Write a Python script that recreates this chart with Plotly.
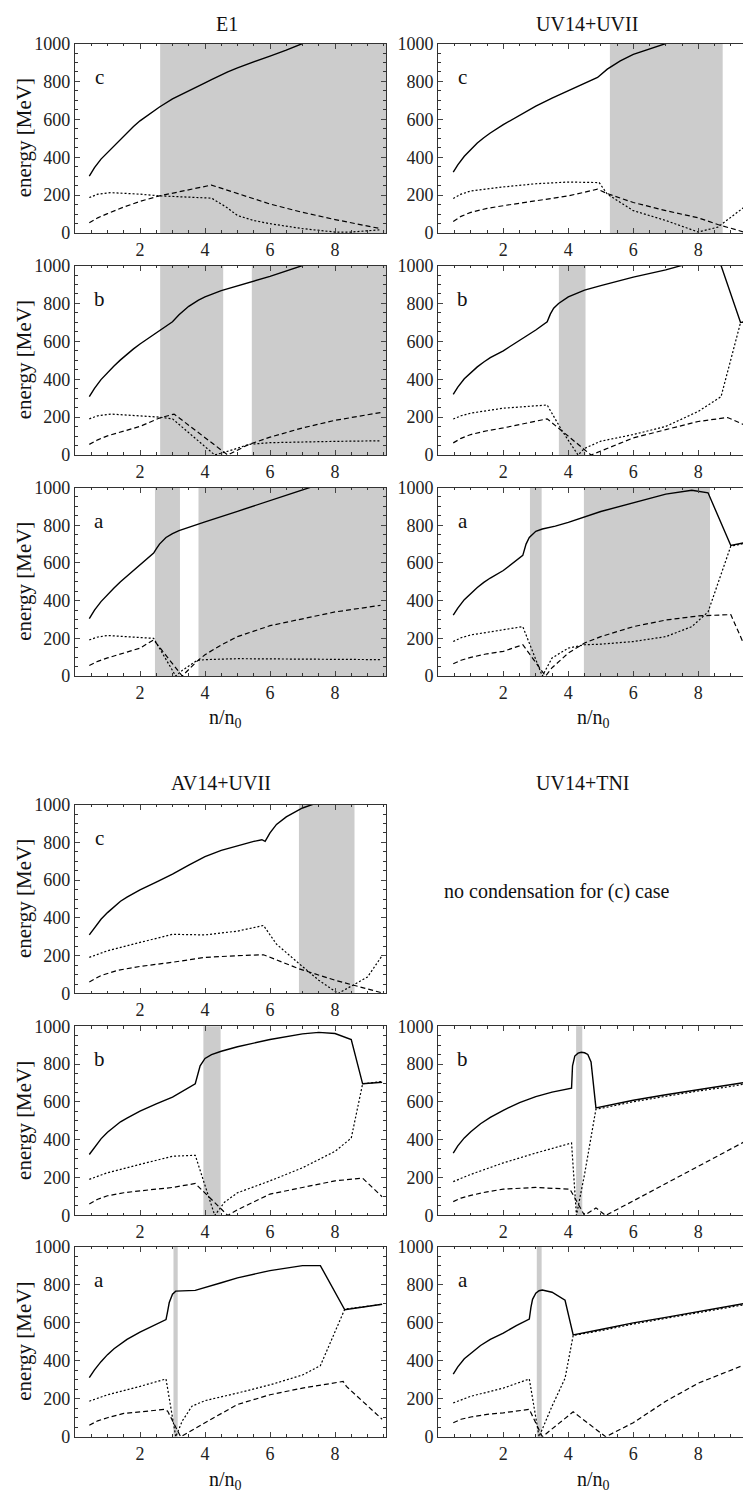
import plotly.graph_objects as go

W, H = 743, 1504

# ---------------- data ----------------
# E1
e1c_solid_x = [0.44, 0.6, 0.8, 1.0, 1.2, 1.4, 1.6, 1.8, 2.0, 2.3, 2.6, 3.0, 3.5, 4.0, 4.2, 4.4, 4.7, 5.0, 5.5, 6.0, 6.5, 7.0, 8.0, 9.6]
e1c_solid_y = [300, 345, 390, 425, 462, 497, 530, 562, 592, 630, 665, 708, 752, 792, 809, 826, 850, 872, 905, 934, 965, 1000, 1060, 1150]
e1c_dot_x = [0.44, 0.7, 1.1, 1.6, 2.0, 2.6, 3.5, 4.2, 4.67, 5.0, 5.5, 6.0, 7.0, 8.0, 8.5, 9.4]
e1c_dot_y = [187, 205, 213, 210, 205, 196, 190, 184, 135, 92, 66, 49, 23, 5, 5, 17]
e1c_dash_x = [0.44, 0.7, 1.0, 1.5, 2.0, 2.6, 4.2, 5.0, 6.0, 7.0, 8.0, 9.4]
e1c_dash_y = [54, 80, 102, 137, 167, 196, 253, 208, 153, 109, 71, 23]
e1c_shade = [(2.62, 9.6)]

e1b_solid_x = [0.44, 0.6, 0.8, 1.0, 1.2, 1.4, 1.6, 1.8, 2.0, 2.3, 2.6, 3.0, 3.2, 3.5, 3.8, 4.0, 4.5, 5.0, 6.0, 7.0, 8.0, 9.6]
e1b_solid_y = [308, 352, 398, 435, 470, 502, 532, 560, 586, 622, 656, 703, 740, 785, 818, 835, 868, 894, 943, 1000, 1055, 1140]
e1b_dot_x = [0.44, 0.7, 1.1, 2.0, 2.6, 3.0, 4.3, 4.9, 5.35, 6.0, 7.0, 8.0, 9.4]
e1b_dot_y = [191, 207, 216, 208, 200, 191, 0, 30, 56, 65, 70, 72, 75]
e1b_dash_x = [0.44, 0.7, 1.0, 1.5, 2.0, 2.6, 3.05, 4.7, 5.35, 6.0, 7.0, 8.0, 9.4]
e1b_dash_y = [56, 80, 101, 128, 151, 195, 216, 0, 56, 94, 143, 183, 224]
e1b_shade = [(2.62, 4.56), (5.44, 9.6)]

e1a_solid_x = [0.44, 0.6, 0.8, 1.0, 1.2, 1.4, 1.6, 1.8, 2.0, 2.2, 2.42, 2.5, 2.6, 2.8, 3.0, 3.2, 3.5, 4.0, 5.0, 6.0, 7.0, 8.0, 9.6]
e1a_solid_y = [305, 350, 395, 432, 467, 500, 530, 558, 585, 620, 652, 675, 700, 735, 756, 772, 790, 818, 874, 930, 987, 1045, 1135]
e1a_dot_x = [0.44, 0.7, 1.0, 2.0, 2.42, 3.1, 3.3, 3.75, 4.0, 5.0, 6.0, 7.0, 8.0, 9.4]
e1a_dot_y = [192, 207, 215, 207, 200, 0, 30, 82, 87, 92, 91, 90, 89, 87]
e1a_dash_x = [0.44, 0.7, 1.0, 1.5, 2.0, 2.42, 3.3, 3.75, 4.0, 4.5, 5.0, 6.0, 7.0, 8.0, 9.4]
e1a_dash_y = [56, 78, 96, 124, 148, 192, 0, 78, 113, 165, 209, 267, 305, 340, 375]
e1a_shade = [(2.46, 3.23), (3.8, 9.6)]

# UV14+UVII
uvc_solid_x = [0.46, 0.6, 0.8, 1.0, 1.2, 1.4, 1.6, 2.0, 2.5, 3.0, 3.5, 4.0, 4.5, 4.9, 5.2, 5.6, 6.0, 6.5, 7.0, 8.0, 9.4]
uvc_solid_y = [321, 360, 405, 442, 475, 503, 528, 572, 622, 670, 712, 752, 788, 821, 865, 908, 943, 972, 1000, 1050, 1120]
uvc_dot_x = [0.46, 0.7, 1.0, 2.0, 3.0, 4.0, 4.95, 5.2, 6.0, 7.0, 8.0, 8.6, 9.4]
uvc_dot_y = [182, 205, 222, 243, 260, 269, 266, 205, 118, 66, 5, 31, 135]
uvc_dash_x = [0.46, 0.7, 1.0, 1.5, 2.0, 3.0, 4.0, 4.9, 5.2, 6.0, 7.0, 8.0, 8.6, 9.4]
uvc_dash_y = [61, 88, 109, 130, 144, 170, 196, 231, 208, 161, 118, 80, 45, 5]
uvc_shade = [(5.28, 8.75)]

uvb_solid_x = [0.46, 0.6, 0.8, 1.0, 1.2, 1.4, 1.6, 2.0, 2.5, 3.0, 3.35, 3.45, 3.55, 3.7, 4.0, 4.5, 5.0, 6.0, 7.0, 7.5, 8.1, 8.7, 9.3, 9.4]
uvb_solid_y = [320, 358, 402, 436, 465, 491, 514, 550, 603, 660, 703, 745, 775, 800, 835, 870, 894, 939, 977, 1000, 1030, 1000, 699, 702]
uvb_dot_x = [0.46, 0.7, 1.0, 2.0, 3.35, 3.8, 4.3, 4.5, 5.0, 6.0, 7.0, 8.0, 8.7, 9.3, 9.4]
uvb_dot_y = [190, 207, 221, 247, 264, 130, 0, 35, 73, 108, 151, 230, 308, 699, 702]
uvb_dash_x = [0.46, 0.7, 1.0, 1.5, 2.0, 3.35, 4.7, 5.0, 6.0, 7.0, 8.0, 8.9, 9.4]
uvb_dash_y = [64, 88, 108, 128, 143, 191, 0, 21, 90, 134, 177, 198, 160]
uvb_shade = [(3.71, 4.53)]

uva_solid_x = [0.46, 0.6, 0.8, 1.0, 1.2, 1.4, 1.6, 2.0, 2.3, 2.6, 2.7, 2.8, 3.0, 3.2, 3.6, 4.0, 5.0, 6.0, 7.0, 7.8, 8.3, 9.0, 9.4]
uva_solid_y = [323, 360, 405, 440, 470, 497, 520, 560, 600, 640, 700, 735, 768, 780, 795, 815, 873, 920, 965, 986, 972, 693, 707]
uva_dot_x = [0.46, 0.7, 1.0, 2.0, 2.6, 3.2, 3.5, 4.0, 4.5, 5.0, 6.0, 7.0, 7.8, 8.3, 9.0, 9.4]
uva_dot_y = [183, 203, 218, 244, 262, 0, 96, 148, 166, 169, 183, 209, 262, 340, 689, 703]
uva_dash_x = [0.46, 0.7, 1.0, 1.5, 2.0, 2.6, 3.3, 3.5, 4.0, 4.5, 5.0, 6.0, 7.0, 8.0, 9.0, 9.2, 9.4]
uva_dash_y = [65, 84, 99, 118, 131, 166, 0, 44, 122, 175, 209, 262, 297, 319, 326, 244, 170]
uva_shade = [(2.82, 3.18), (4.48, 8.36)]

# AV14+UVII
avc_solid_x = [0.44, 0.6, 0.8, 1.0, 1.2, 1.4, 1.6, 2.0, 2.5, 3.0, 3.5, 4.0, 4.5, 5.0, 5.5, 5.75, 5.85, 6.0, 6.2, 6.5, 7.0, 7.3, 8.0, 9.6]
avc_solid_y = [310, 350, 393, 428, 460, 488, 510, 548, 590, 632, 680, 725, 758, 783, 805, 814, 805, 850, 895, 935, 982, 1000, 1040, 1100]
avc_dot_x = [0.44, 1.0, 2.0, 3.0, 4.0, 5.0, 5.8, 6.2, 6.9, 7.5, 8.1, 9.0, 9.45]
avc_dot_y = [191, 226, 270, 313, 310, 330, 360, 261, 157, 70, 0, 87, 200]
avc_dash_x = [0.44, 0.8, 1.3, 2.0, 3.0, 4.0, 5.0, 5.8, 6.9, 8.0, 9.45]
avc_dash_y = [61, 95, 122, 143, 165, 191, 200, 205, 130, 70, 3]
avc_shade = [(6.89, 8.6)]

avb_solid_x = [0.44, 0.6, 0.8, 1.0, 1.2, 1.4, 1.6, 2.0, 2.5, 3.0, 3.7, 3.78, 3.85, 4.0, 4.2, 4.5, 5.0, 6.0, 7.0, 7.5, 8.0, 8.5, 8.85, 9.45]
avb_solid_y = [322, 362, 405, 440, 470, 495, 515, 551, 590, 626, 696, 750, 791, 830, 850, 868, 892, 930, 960, 968, 962, 930, 696, 704]
avb_dot_x = [0.44, 1.0, 2.0, 3.0, 3.7, 4.3, 4.6, 5.0, 6.0, 7.0, 8.0, 8.5, 8.85, 9.45]
avb_dot_y = [191, 226, 270, 313, 318, 0, 70, 120, 183, 252, 339, 409, 696, 708]
avb_dash_x = [0.44, 0.7, 1.0, 1.5, 2.0, 3.0, 3.7, 4.7, 5.0, 6.0, 7.0, 8.0, 8.85, 9.45]
avb_dash_y = [61, 86, 104, 120, 130, 148, 169, 0, 30, 113, 148, 183, 197, 99]
avb_shade = [(3.95, 4.48)]

ava_solid_x = [0.44, 0.6, 0.8, 1.0, 1.2, 1.4, 1.6, 2.0, 2.4, 2.8, 2.85, 2.9, 3.0, 3.1, 3.7, 4.0, 4.5, 5.0, 6.0, 7.0, 7.55, 8.3, 9.45]
ava_solid_y = [311, 352, 395, 432, 463, 490, 512, 550, 585, 616, 660, 706, 750, 766, 770, 784, 810, 836, 874, 900, 900, 668, 697]
ava_dot_x = [0.44, 1.0, 2.0, 2.8, 3.1, 3.3, 3.6, 4.0, 5.0, 6.0, 7.0, 7.55, 8.3, 9.45]
ava_dot_y = [187, 221, 265, 304, 0, 83, 161, 190, 230, 273, 325, 374, 671, 697]
ava_dash_x = [0.44, 0.7, 1.0, 1.5, 2.0, 2.75, 2.85, 3.25, 4.0, 5.0, 6.0, 7.0, 8.25, 8.35, 9.45]
ava_dash_y = [61, 84, 100, 123, 131, 144, 135, 0, 74, 170, 221, 256, 291, 265, 92]
ava_shade = [(3.03, 3.16)]

# UV14+TNI
tnib_solid_x = [0.46, 0.6, 0.8, 1.0, 1.3, 1.6, 2.0, 2.5, 3.0, 3.5, 4.1, 4.13, 4.2, 4.3, 4.4, 4.5, 4.6, 4.7, 4.85, 5.0, 6.0, 7.0, 8.0, 9.0, 9.4]
tnib_solid_y = [330, 368, 410, 443, 485, 518, 556, 597, 628, 652, 673, 791, 843, 858, 863, 860, 851, 812, 569, 574, 609, 638, 666, 690, 702]
tnib_dot_x = [0.46, 1.0, 2.0, 3.0, 4.1, 4.25, 4.5, 4.7, 4.85, 5.0, 6.0, 7.0, 8.0, 9.0, 9.4]
tnib_dot_y = [179, 217, 278, 330, 383, 0, 217, 426, 562, 566, 601, 630, 658, 682, 694]
tnib_dash_x = [0.46, 0.7, 1.0, 1.5, 2.0, 3.0, 4.05, 4.5, 4.85, 5.15, 6.0, 7.0, 8.0, 9.4]
tnib_dash_y = [73, 92, 106, 125, 139, 148, 139, 0, 40, 0, 77, 168, 260, 388]
tnib_shade = [(4.24, 4.43)]

tnia_solid_x = [0.46, 0.6, 0.8, 1.0, 1.3, 1.6, 2.0, 2.4, 2.8, 2.85, 2.9, 3.0, 3.1, 3.2, 3.5, 3.9, 4.15, 5.0, 6.0, 7.0, 8.0, 9.4]
tnia_solid_y = [329, 368, 410, 440, 480, 512, 545, 585, 619, 680, 723, 755, 768, 772, 760, 718, 536, 564, 599, 628, 659, 700]
tnia_dot_x = [0.46, 1.0, 2.0, 2.8, 3.1, 3.5, 3.9, 4.15, 5.0, 6.0, 7.0, 8.0, 9.4]
tnia_dot_y = [178, 213, 256, 304, 0, 161, 308, 533, 558, 593, 623, 654, 694]
tnia_dash_x = [0.46, 0.7, 1.0, 1.5, 2.0, 2.8, 3.2, 4.15, 5.15, 6.0, 7.0, 8.0, 9.4]
tnia_dash_y = [74, 92, 104, 118, 126, 144, 0, 131, 0, 74, 187, 282, 377]
tnia_shade = [(3.03, 3.18)]

titles = ["E1", "UV14+UVII", "AV14+UVII", "UV14+TNI"]
y_ticks = [0, 200, 400, 600, 800, 1000]
x_ticks = [2, 4, 6, 8]

# ---------------- layout geometry (pixels) ----------------
LEFT = (75, 386)
RIGHT = (438.3, 743)
PX_PER_X = 32.5

panels = [
    ("L", (34, 226), "c", (e1c_solid_x, e1c_solid_y), (e1c_dot_x, e1c_dot_y), (e1c_dash_x, e1c_dash_y), e1c_shade),
    ("R", (34, 226), "c", (uvc_solid_x, uvc_solid_y), (uvc_dot_x, uvc_dot_y), (uvc_dash_x, uvc_dash_y), uvc_shade),
    ("L", (259, 451), "b", (e1b_solid_x, e1b_solid_y), (e1b_dot_x, e1b_dot_y), (e1b_dash_x, e1b_dash_y), e1b_shade),
    ("R", (259, 451), "b", (uvb_solid_x, uvb_solid_y), (uvb_dot_x, uvb_dot_y), (uvb_dash_x, uvb_dash_y), uvb_shade),
    ("L", (484, 675), "a", (e1a_solid_x, e1a_solid_y), (e1a_dot_x, e1a_dot_y), (e1a_dash_x, e1a_dash_y), e1a_shade),
    ("R", (484, 675), "a", (uva_solid_x, uva_solid_y), (uva_dot_x, uva_dot_y), (uva_dash_x, uva_dash_y), uva_shade),
    ("L", (805.3, 996.7), "c", (avc_solid_x, avc_solid_y), (avc_dot_x, avc_dot_y), (avc_dash_x, avc_dash_y), avc_shade),
    ("L", (1030, 1221.7), "b", (avb_solid_x, avb_solid_y), (avb_dot_x, avb_dot_y), (avb_dash_x, avb_dash_y), avb_shade),
    ("R", (1030, 1221.7), "b", (tnib_solid_x, tnib_solid_y), (tnib_dot_x, tnib_dot_y), (tnib_dash_x, tnib_dash_y), tnib_shade),
    ("L", (1253.3, 1446), "a", (ava_solid_x, ava_solid_y), (ava_dot_x, ava_dot_y), (ava_dash_x, ava_dash_y), ava_shade),
    ("R", (1253.3, 1446), "a", (tnia_solid_x, tnia_solid_y), (tnia_dot_x, tnia_dot_y), (tnia_dash_x, tnia_dash_y), tnia_shade),
]

FONT = "Liberation Serif, Times New Roman, serif"
SHADE = "#cccccc"

fig = go.Figure()
layout = dict(
    width=W, height=H, margin=dict(l=0, r=0, t=0, b=0),
    paper_bgcolor="white", plot_bgcolor="rgba(0,0,0,0)",
    showlegend=False, font=dict(family=FONT, size=18, color="#111"),
)
shapes = []
annotations = []


def px2x(px):
    return px / W


def px2y(py):
    return 1 - py / H


def note(text, cx, cy, size=20, angle=0):
    annotations.append(dict(text=text, xref="paper", yref="paper", x=px2x(cx), y=px2y(cy),
                            xanchor="center", yanchor="middle", textangle=angle,
                            showarrow=False, font=dict(family=FONT, size=size, color="#111")))


for i, (col, (top, bot), letter, solid, dot, dash, shade) in enumerate(panels, start=1):
    sfx = "" if i == 1 else str(i)
    xa, ya = "x" + sfx, "y" + sfx
    xl, xr = LEFT if col == "L" else RIGHT
    xmax = (xr - xl) / PX_PER_X
    layout["xaxis" + sfx] = dict(
        domain=[px2x(xl), px2x(xr)], range=[0, xmax], anchor=ya,
        tickmode="array", tickvals=x_ticks, ticks="inside", ticklen=5, tickwidth=1,
        minor=dict(ticks="inside", ticklen=2.5, dtick=0.5, tick0=0, tickcolor="#333"),
        showline=True, linecolor="#333", linewidth=1.3, mirror="allticks",
        showgrid=False, zeroline=False, tickfont=dict(family=FONT, size=18, color="#222"),
    )
    layout["yaxis" + sfx] = dict(
        domain=[px2y(bot), px2y(top)], range=[0, 1000], anchor=xa,
        tickmode="array", tickvals=y_ticks, ticks="inside", ticklen=5, tickwidth=1,
        minor=dict(ticks="inside", ticklen=2.5, dtick=50, tick0=0, tickcolor="#333"),
        showline=True, linecolor="#333", linewidth=1.3,
        mirror="allticks" if col == "L" else False,
        showgrid=False, zeroline=False, tickfont=dict(family=FONT, size=18, color="#222"),
    )
    for (a, b) in shade:
        shapes.append(dict(type="rect", xref=xa, yref=ya + " domain", x0=a, x1=min(b, xmax),
                           y0=0, y1=1, fillcolor=SHADE, line=dict(width=0), layer="below"))
    fig.add_trace(go.Scatter(x=dash[0], y=dash[1], mode="lines", xaxis=xa, yaxis=ya,
                             line=dict(color="black", width=1.2, dash="5px,3px")))
    fig.add_trace(go.Scatter(x=dot[0], y=dot[1], mode="lines", xaxis=xa, yaxis=ya,
                             line=dict(color="black", width=1.2, dash="2px,2px")))
    fig.add_trace(go.Scatter(x=solid[0], y=solid[1], mode="lines", xaxis=xa, yaxis=ya,
                             line=dict(color="black", width=1.4)))
    annotations.append(dict(text=letter, xref=xa, yref=ya, x=0.75, y=825, showarrow=False,
                            xanchor="center", yanchor="middle",
                            font=dict(family=FONT, size=21, color="#111")))

# titles
for txt, (cx, cy) in zip(titles, [(227, 14), (587, 14), (221, 783), (583, 783)]):
    note(txt, cx, cy, 20)

note("no condensation for (c) case", 557, 893, 20)

# x-axis titles
for cx, cy in [(225, 718), (593, 718), (225, 1490), (593, 1490)]:
    note("n/n<sub>0</sub>", cx, cy, 20)

# y-axis titles (left column)
for top, bot in [(34, 226), (259, 451), (484, 675), (805.3, 996.7), (1030, 1221.7), (1253.3, 1446)]:
    note("energy [MeV]", 24, (top + bot) / 2, 21, -90)

layout["shapes"] = shapes
layout["annotations"] = annotations
fig.update_layout(**layout)
fig.write_html("out.html")
